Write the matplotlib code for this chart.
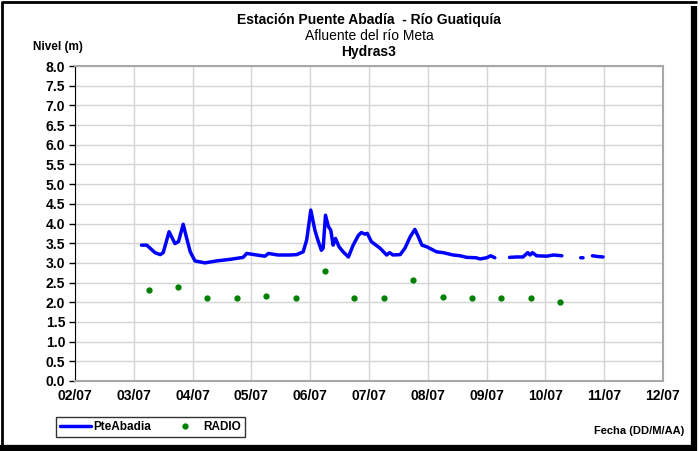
import numpy as np
import matplotlib.pyplot as plt
from matplotlib.lines import Line2D

# dias (fraccion de dia de julio) y nivel del sensor PteAbadia
dias = [3.13, 3.22, 3.28, 3.36, 3.45, 3.50, 3.60, 3.70, 3.76, 3.84, 3.90, 3.96, 4.04,
        4.21, 4.41, 4.64, 4.86, 4.92, 5.09, 5.23, 5.29, 5.45, 5.66, 5.77, 5.88, 5.94,
        6.01, 6.08, 6.13, 6.19, 6.22, 6.26, 6.31, 6.35, 6.39, 6.43, 6.49, 6.56, 6.65,
        6.73, 6.82, 6.87, 6.93, 6.97, 7.04, 7.19, 7.30, 7.35, 7.41, 7.53, 7.61, 7.70,
        7.78, 7.84, 7.90, 7.98, 8.15, 8.26, 8.43, 8.55, 8.66, 8.82, 8.89, 9.00, 9.07,
        9.14, 9.20, 9.39, 9.51, 9.62, 9.70, 9.74, 9.78, 9.85, 10.02, 10.14, 10.28,
        10.40, 10.60, 10.64, 10.72, 10.80, 10.90, 10.98]
nivel = [3.45, 3.45, 3.37, 3.26, 3.21, 3.26, 3.79, 3.49, 3.54, 3.98, 3.62, 3.28, 3.05,
         3.00, 3.05, 3.09, 3.14, 3.24, 3.20, 3.17, 3.24, 3.20, 3.20, 3.21, 3.28, 3.58,
         4.34, 3.83, 3.58, 3.32, 3.37, 4.21, 3.92, 3.83, 3.45, 3.62, 3.41, 3.28, 3.15,
         3.45, 3.70, 3.77, 3.73, 3.75, 3.54, 3.37, 3.20, 3.26, 3.20, 3.21, 3.37, 3.66,
         3.85, 3.66, 3.45, 3.41, 3.28, 3.26, 3.20, 3.18, 3.14, 3.13, 3.10, 3.13, 3.18,
         3.13, np.nan, 3.14, 3.15, 3.15, 3.26, 3.20, 3.26, 3.18, 3.17, 3.20, 3.18,
         np.nan, 3.13, 3.13, np.nan, 3.18, 3.16, 3.15]

# lecturas de radio
dias_radio = [3.25, 3.75, 4.25, 4.75, 5.25, 5.75, 6.25, 6.75, 7.25, 7.75, 8.25, 8.75,
              9.25, 9.75, 10.25]
radio = [2.3, 2.4, 2.1, 2.1, 2.15, 2.1, 2.8, 2.1, 2.1, 2.57, 2.13, 2.1, 2.1, 2.1, 2.0]

etiquetas = ['02/07', '03/07', '04/07', '05/07', '06/07', '07/07', '08/07', '09/07',
             '10/07', '11/07', '12/07']

plt.rcParams['font.family'] = ['Liberation Sans', 'DejaVu Sans']

fig = plt.figure(figsize=(7, 4.51), dpi=100)
ax = fig.add_axes([75/700, 1 - 381/451, (663-75)/700, (381-66)/451])

ax.plot(dias, nivel, color='#0000ff', lw=2.5, label='PteAbadia', zorder=3,
        solid_joinstyle='round', solid_capstyle='round')
ax.plot(dias_radio, radio, 'o', color='#008000', ms=3.5, label='RADIO', zorder=4)

ax.set_xlim(2, 12)
ax.set_ylim(0, 8)
ax.set_xticks(range(2, 13))
ax.set_xticklabels(etiquetas, fontweight='bold', fontsize=10)
ax.set_yticks(np.arange(0, 8.01, 0.5))
ax.set_yticklabels(['%.1f' % v for v in np.arange(0, 8.01, 0.5)], fontweight='bold', fontsize=10)
ax.grid(True, color='#d4d4d4', lw=1)
ax.tick_params(axis='x', length=0, pad=6)
ax.tick_params(axis='y', length=4, width=1, pad=3)
for s in ['top', 'right', 'bottom']:
    ax.spines[s].set_color('#a8a8a8')
    ax.spines[s].set_linewidth(1.5)
ax.spines['left'].set_color('black')

fig.text(369/700, 1 - 20/451, 'Estación Puente Abadía  - Río Guatiquía', ha='center', va='center',
         fontsize=10, fontweight='bold')
fig.text(369/700, 1 - 36/451, 'Afluente del río Meta', ha='center', va='center', fontsize=10)
fig.text(369/700, 1 - 52/451, 'Hydras3', ha='center', va='center', fontsize=10, fontweight='bold')
fig.text(33/700, 1 - 47/451, 'Nivel (m)', ha='left', va='center', fontsize=8.5, fontweight='bold')
fig.text(684/700, 1 - 431/451, 'Fecha (DD/M/AA)', ha='right', va='center', fontsize=8,
         fontweight='bold')

leg = fig.legend(loc='center left', bbox_to_anchor=(56/700, 1 - 427/451), ncol=2,
                 prop={'weight': 'bold', 'size': 8.5}, frameon=True, fancybox=False,
                 edgecolor='black', handlelength=2.6, handletextpad=0.2, columnspacing=1.6,
                 borderpad=0.35, borderaxespad=0)
leg.get_frame().set_linewidth(1)

# marco exterior con sombra
W, H = 700, 451
def linea(x0, y0, x1, y1, lw):
    fig.add_artist(Line2D([x0/W, x1/W], [1 - y0/H, 1 - y1/H], color='black', lw=lw,
                          transform=fig.transFigure, solid_capstyle='butt'))
linea(2, 2, 697, 2, 2)
linea(2, 1, 2, 451, 2)
linea(694, 6, 694, 451, 4.5)
linea(0, 448, 697, 448, 4.5)

fig.savefig('out.png', dpi=100)
